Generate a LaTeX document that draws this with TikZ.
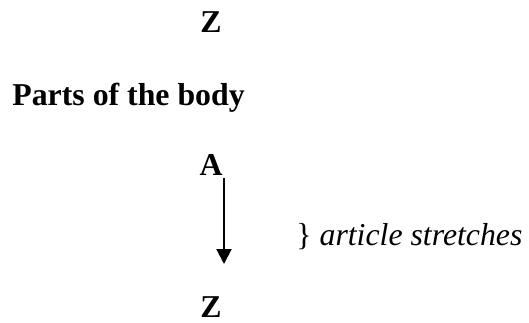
\documentclass[tikz,border=0pt]{standalone}
\usepackage{fontspec}
\setmainfont{Liberation Serif}
\usetikzlibrary{arrows.meta,positioning}

\begin{document}
\begin{tikzpicture}[
  x=0.5pt, y=-0.5pt,
  every node/.style={font=\fontsize{15.9}{18}\selectfont, inner sep=0pt},
  letter/.style={font=\fontsize{15.9}{18}\selectfont\bfseries, anchor=base},
  heading/.style={font=\fontsize{15.9}{18}\selectfont\bfseries, anchor=base west},
  arrow/.style={-{Triangle[length=7.5pt,width=7.5pt]}, line width=1pt}
]
\useasboundingbox (0,0) rectangle (529,322);
\node[letter] (ztop) at (211,32) {Z};
\node[heading] (parts) at (12,105) {Parts of the body};
\node[letter] (a) at (211,175) {A};
\node[letter] (zbot) at (211,317) {Z};
\coordinate (arrowtop) at (224,178);
\coordinate (arrowend) at (224,264);
\draw[arrow] (arrowtop) -- (arrowend);
\node[anchor=base west] (stretch) at (296,245) {\} \textit{article stretches}};
\end{tikzpicture}
\end{document}
